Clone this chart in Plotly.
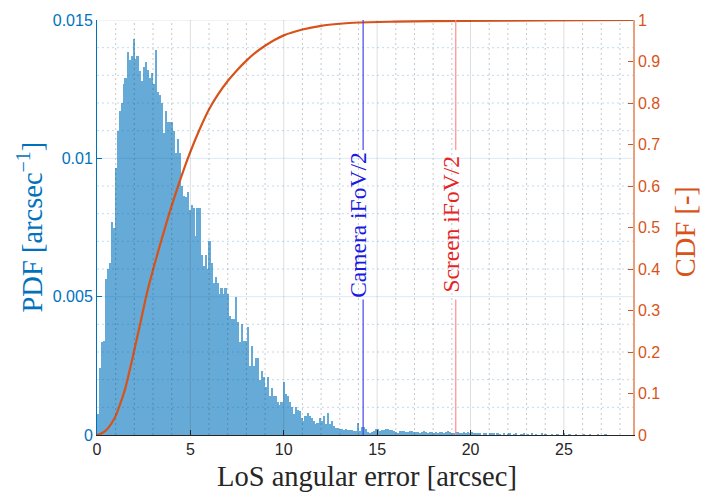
import plotly.graph_objects as go

# ---------------- data ----------------
BIN_WIDTH = 0.107  # arcsec

pdf_values = [
    # 0 - 5.2 arcsec
    0.00075, 0.00242, 0.00335, 0.0034, 0.00563, 0.0060, 0.0062, 0.0077, 0.0075, 0.00966,
    0.0110, 0.0117, 0.0120, 0.0127, 0.0129, 0.01386, 0.01357, 0.0137, 0.0143, 0.0136,
    0.0137, 0.01315, 0.0128, 0.0133, 0.0135, 0.0132, 0.0129, 0.0131, 0.0127, 0.0139,
    0.0124, 0.0123, 0.0120, 0.0109, 0.0117, 0.0113, 0.0113, 0.0113, 0.0110, 0.0102,
    0.0107, 0.0102, 0.0090, 0.00865, 0.0086, 0.0088, 0.00815, 0.0083, 0.0082,
    # 5.2 - 10.6 arcsec
    0.0072, 0.0082, 0.0082, 0.0065, 0.0061, 0.0065, 0.0060, 0.0070, 0.0062, 0.0055,
    0.0057, 0.0055, 0.0051, 0.0053, 0.0051, 0.0053, 0.0051, 0.0043, 0.0042, 0.0042,
    0.0050, 0.0041, 0.00335, 0.0040, 0.0034, 0.0034, 0.0039, 0.0025, 0.0032, 0.0025,
    0.0028, 0.0028, 0.0020, 0.0023, 0.0021, 0.00175, 0.0021, 0.0014, 0.0017, 0.0014,
    0.0014, 0.0012, 0.0011, 0.0012, 0.0019, 0.0015, 0.0014, 0.0012, 0.0010, 0.00075,
    # 10.6 - 17 arcsec
    0.0010, 0.0009, 0.00088, 0.00063, 0.0005, 0.0007, 0.0008, 0.0007, 0.00063, 0.0005,
    0.0004, 0.00045, 0.0006, 0.0005, 0.0007, 0.0004, 0.0008, 0.0004, 0.0005, 0.00033,
    0.00024, 0.00027, 0.0002, 0.0002, 0.00018, 0.0002, 0.00017, 0.00017, 0.00018, 0.00015,
    0.00015, 0.00043, 0.00015, 0.0003, 0.0003, 0.0002, 0.0001, 0.00009, 0.0001, 0.00015,
    0.0002, 0.0002, 0.00015, 0.00018, 0.00018, 0.00022, 0.0002, 0.00017, 0.00018, 0.00015,
    0.0001, 0.00008, 0.00014, 0.00013, 0.00013, 0.0001, 0.0001, 0.00015, 0.00014, 0.00012,
    # 17 - 20 arcsec
    0.0001, 0.00012, 0.00008, 0.0001, 0.00013, 0.0001, 0.00007, 0.0001, 0.00012, 0.00009,
    0.0001, 0.00006, 0.0001, 0.00011, 0.00008, 0.0001, 0.00013, 0.0001, 0.00009, 0.00007,
    0.0001, 0.00012, 0.00008, 0.00005, 0.0001, 0.00009, 0.00011, 0.00006, 0.0001, 0.00008,
    # 20 - 28.7 arcsec
    0.00004, 0.00006, 0.00005, 0.0, 0.00005, 0.00004, 0.0, 0.00006, 0.00004, 0.00005,
    0.0, 0.00004, 0.00003, 0.0, 0.00005, 0.0, 0.00003, 0.00004, 0.0, 0.00003,
    0.00004, 0.0, 0.0, 0.00003, 0.00004, 0.0, 0.00003, 0.0, 0.00004, 0.0,
    0.00003, 0.0, 0.0, 0.00004, 0.0, 0.00003, 0.0, 0.0, 0.00003, 0.0,
    0.0, 0.00003, 0.0, 0.0, 0.00004, 0.0, 0.0, 0.00003, 0.0, 0.0,
    0.00003, 0.0, 0.0, 0.0, 0.00003, 0.0, 0.0, 0.00003, 0.0, 0.0,
    0.0, 0.00003, 0.0, 0.0, 0.0, 0.00003, 0.0, 0.0, 0.0, 0.0,
]

cdf_x = [0, 0.25, 0.5, 0.75, 1.0, 1.25, 1.5, 1.84, 2.29, 2.68, 3.26, 3.7, 4.06, 4.5,
         4.95, 5.48, 6.0, 6.5, 7.0, 7.5, 8.0, 8.5, 9.0, 9.5, 10.0, 11.0, 12.0, 13.0,
         14.0, 16.0, 19.6, 24.0, 28.7]
cdf_y = [0, 0.004, 0.012, 0.026, 0.046, 0.076, 0.110, 0.173, 0.263, 0.343, 0.440, 0.508,
         0.561, 0.621, 0.677, 0.735, 0.785, 0.822, 0.853, 0.879, 0.902, 0.922, 0.938,
         0.952, 0.963, 0.977, 0.986, 0.991, 0.994, 0.996, 0.998, 0.999, 1.0]

camera_ifov_half = 14.25
screen_ifov_half = 19.21

x_ticks = [0, 5, 10, 15, 20, 25]
pdf_ticks = [0, 0.005, 0.01, 0.015]
pdf_tick_text = ["0", "0.005", "0.01", "0.015"]
cdf_ticks = [i / 10 for i in range(11)]
cdf_tick_text = ["0", "0.1", "0.2", "0.3", "0.4", "0.5", "0.6", "0.7", "0.8", "0.9", "1"]

X_MAX = 28.7

# ---------------- styling ----------------
BLUE = "#0072BD"
ORANGE = "#D95319"
BAR = "#66AAD7"
SERIF = "Liberation Serif, Times New Roman, serif"
SANS = "Liberation Sans, Arial, sans-serif"

centers = [BIN_WIDTH * (i + 0.5) for i in range(len(pdf_values))]

fig = go.Figure()
fig.add_trace(go.Bar(x=centers, y=pdf_values, width=BIN_WIDTH,
                     marker=dict(color=BAR, line=dict(width=0)),
                     yaxis="y", showlegend=False, hoverinfo="skip"))
fig.add_trace(go.Scatter(x=cdf_x, y=cdf_y, mode="lines", yaxis="y2",
                         line=dict(color=ORANGE, width=2.2, shape="spline", smoothing=0.8),
                         showlegend=False, hoverinfo="skip"))

shapes = []
# grid drawn on top of the plotted objects (MATLAB layer 'top')
for v in range(1, int(X_MAX) + 1):
    if v % 5:
        shapes.append(dict(type="line", xref="x", yref="paper", x0=v, x1=v, y0=0, y1=1,
                           line=dict(color="rgba(38,38,38,0.25)", width=1, dash="2px,3px"),
                           layer="above"))
for v in x_ticks[1:]:
    shapes.append(dict(type="line", xref="x", yref="paper", x0=v, x1=v, y0=0, y1=1,
                       line=dict(color="rgba(38,38,38,0.15)", width=1), layer="above"))
for i in range(1, 15):
    if i % 5:
        shapes.append(dict(type="line", xref="paper", yref="y", x0=0, x1=1,
                           y0=i * 0.001, y1=i * 0.001,
                           line=dict(color="rgba(0,114,189,0.25)", width=1, dash="2px,3px"),
                           layer="above"))
for v in pdf_ticks[1:]:
    shapes.append(dict(type="line", xref="paper", yref="y", x0=0, x1=1, y0=v, y1=v,
                       line=dict(color="rgba(0,114,189,0.15)", width=1), layer="above"))

# reference lines with a gap for the label
gap_lo, gap_hi = 0.0049, 0.0103
for xv, col in [(camera_ifov_half, "rgb(70,70,235)"), (screen_ifov_half, "rgb(255,140,140)")]:
    shapes.append(dict(type="line", xref="x", yref="y", x0=xv, x1=xv, y0=0, y1=gap_lo,
                       line=dict(color=col, width=1.2), layer="above"))
    shapes.append(dict(type="line", xref="x", yref="y", x0=xv, x1=xv, y0=gap_hi, y1=0.015,
                       line=dict(color=col, width=1.2), layer="above"))

annotations = [
    dict(text="Camera iFoV/2", x=camera_ifov_half, y=(gap_lo + gap_hi) / 2, xref="x", yref="y",
         textangle=-90, showarrow=False, xanchor="center", yanchor="middle", xshift=-5,
         font=dict(family=SERIF, size=23.5, color="rgb(25,25,225)")),
    dict(text="Screen iFoV/2", x=screen_ifov_half, y=(gap_lo + gap_hi) / 2, xref="x", yref="y",
         textangle=-90, showarrow=False, xanchor="center", yanchor="middle", xshift=-5,
         font=dict(family=SERIF, size=23.5, color="rgb(230,35,35)")),
    dict(text="LoS angular error [arcsec]", x=0.503, y=-0.1, xref="paper", yref="paper",
         showarrow=False, xanchor="center", yanchor="middle",
         font=dict(family=SERIF, size=28.5, color="#262626")),
    dict(text="PDF [arcsec<sup>−1</sup>]", x=-0.125, y=0.5, xref="paper", yref="paper",
         textangle=-90, showarrow=False, xanchor="center", yanchor="middle",
         font=dict(family=SERIF, size=28.5, color=BLUE)),
    dict(text="CDF [-]", x=1.098, y=0.49, xref="paper", yref="paper",
         textangle=-90, showarrow=False, xanchor="center", yanchor="middle",
         font=dict(family=SERIF, size=28.5, color=ORANGE)),
]

fig.update_layout(
    width=701, height=495,
    margin=dict(l=97, r=68, t=15, b=60),
    paper_bgcolor="white", plot_bgcolor="white",
    bargap=0, showlegend=False,
    shapes=shapes, annotations=annotations,
    xaxis=dict(range=[0, X_MAX], tickvals=x_ticks, ticks="inside", ticklen=5,
               tickcolor="#262626", showgrid=False, zeroline=False, showline=True,
               linecolor="#262626", linewidth=1,
               tickfont=dict(family=SANS, size=16, color="#262626")),
    yaxis=dict(range=[0, 0.015], tickvals=pdf_ticks, ticktext=pdf_tick_text,
               ticks="inside", ticklen=5, tickcolor=BLUE, showgrid=False, zeroline=False,
               showline=True, linecolor=BLUE, linewidth=1,
               tickfont=dict(family=SANS, size=16, color=BLUE)),
    yaxis2=dict(range=[0, 1], tickvals=cdf_ticks, ticktext=cdf_tick_text, overlaying="y",
                side="right", ticks="inside", ticklen=5, tickcolor=ORANGE, showgrid=False,
                zeroline=False, showline=True, linecolor="#E9A07F", linewidth=1.5,
                tickfont=dict(family=SANS, size=16, color=ORANGE)),
)

fig.write_html("out.html")
